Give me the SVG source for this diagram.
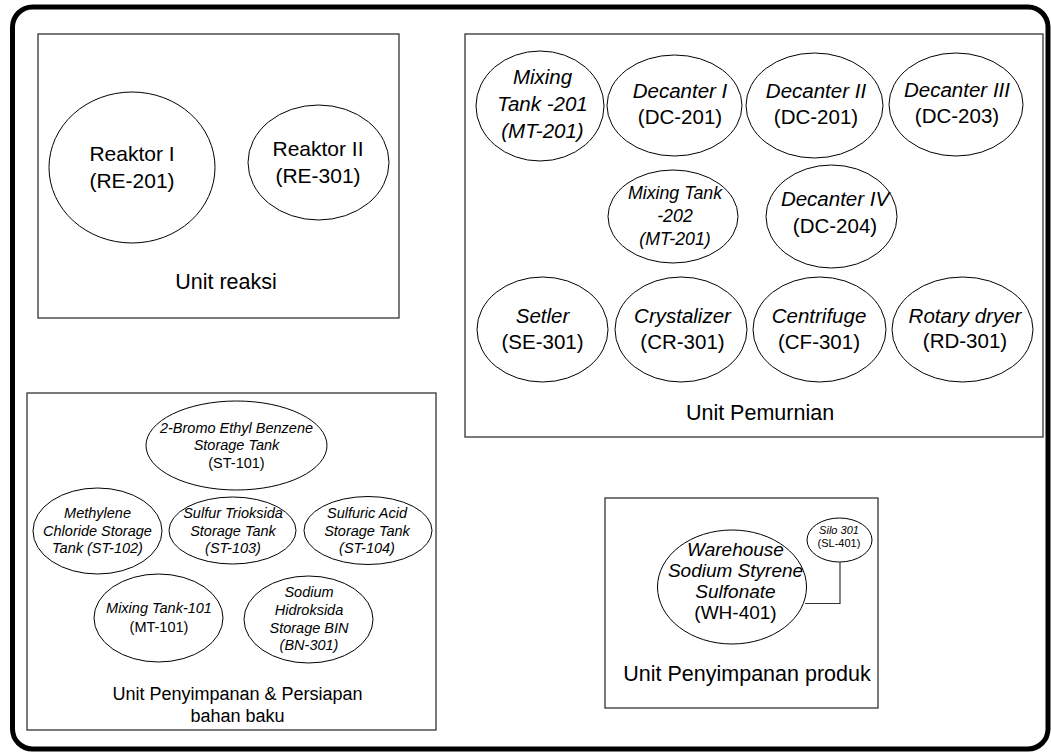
<svg xmlns="http://www.w3.org/2000/svg" width="1051" height="753" viewBox="0 0 1051 753">
<style>
text{font-family:"Liberation Sans",Arial,sans-serif;fill:#000;text-anchor:middle}
.i{font-style:italic}
.box{fill:#fff;stroke:#333;stroke-width:1.3}
.node{fill:#fff;stroke:#000;stroke-width:1}
.big{font-size:21px}
.md{font-size:20.5px}
.sm{font-size:14.5px}
.lbl{font-size:21.5px}
</style>
<rect width="1051" height="753" fill="#fff"/>
<rect x="12.5" y="7" width="1035.5" height="742" rx="20" fill="#fff" stroke="#000" stroke-width="5"/>

<g id="unit-reaksi">
<rect class="box" x="38" y="34" width="361" height="284"/>
<text class="lbl" x="226" y="289">Unit reaksi</text>
</g>
<g id="RE-201">
<ellipse class="node" cx="132" cy="167.5" rx="83" ry="75.5"/>
<text class="big" x="132" y="161">Reaktor I</text>
<text class="big" x="132" y="188">(RE-201)</text>
</g>
<g id="RE-301">
<ellipse class="node" cx="318.5" cy="162.5" rx="70.5" ry="57.5"/>
<text class="big" x="318" y="156">Reaktor II</text>
<text class="big" x="318" y="183">(RE-301)</text>
</g>

<g id="unit-pemurnian">
<rect class="box" x="465" y="34" width="578" height="403"/>
<text class="lbl" x="760" y="420">Unit Pemurnian</text>
</g>
<g id="MT-201">
<ellipse class="node" cx="540" cy="106" rx="64" ry="55"/>
<text class="md i" x="542.5" y="84">Mixing</text>
<text class="md i" x="542.5" y="111">Tank -201</text>
<text class="md i" x="542.5" y="138">(MT-201)</text>
</g>
<g id="DC-201a">
<ellipse class="node" cx="674.5" cy="105.5" rx="67.5" ry="50.5"/>
<text class="md i" x="680" y="98">Decanter I</text>
<text class="md" x="680" y="124">(DC-201)</text>
</g>
<g id="DC-201b">
<ellipse class="node" cx="814.5" cy="105.5" rx="68.5" ry="52.5"/>
<text class="md i" x="816" y="98">Decanter II</text>
<text class="md" x="816" y="124">(DC-201)</text>
</g>
<g id="DC-203">
<ellipse class="node" cx="956" cy="104.5" rx="67" ry="51.5"/>
<text class="md i" x="957" y="97">Decanter III</text>
<text class="md" x="957" y="123">(DC-203)</text>
</g>
<g id="MT-202">
<ellipse class="node" cx="673" cy="216.5" rx="65" ry="46.5"/>
<text class="i" font-size="17.8" x="675" y="199">Mixing Tank</text>
<text class="i" font-size="17.8" x="675" y="222">-202</text>
<text class="i" font-size="17.8" x="675" y="245">(MT-201)</text>
</g>
<g id="DC-204">
<ellipse class="node" cx="831.5" cy="216.5" rx="65.5" ry="51.5"/>
<text class="md i" x="835" y="206">Decanter IV</text>
<text class="md" x="835" y="233">(DC-204)</text>
</g>
<g id="SE-301">
<ellipse class="node" cx="542.5" cy="329.5" rx="65.5" ry="52.5"/>
<text class="md i" x="542.5" y="323">Setler</text>
<text class="md" x="542.5" y="349">(SE-301)</text>
</g>
<g id="CR-301">
<ellipse class="node" cx="681" cy="329.5" rx="66" ry="52.5"/>
<text class="md i" x="682.5" y="323">Crystalizer</text>
<text class="md" x="682.5" y="349">(CR-301)</text>
</g>
<g id="CF-301">
<ellipse class="node" cx="819.5" cy="329.5" rx="66.5" ry="52.5"/>
<text class="md i" x="819" y="323">Centrifuge</text>
<text class="md" x="819" y="349">(CF-301)</text>
</g>
<g id="RD-301">
<ellipse class="node" cx="962.5" cy="329.5" rx="70.5" ry="52.5"/>
<text class="md i" x="965" y="323">Rotary dryer</text>
<text class="md" x="965" y="348">(RD-301)</text>
</g>

<g id="unit-penyimpanan-persiapan">
<rect class="box" x="27" y="393" width="409" height="337"/>
<text font-size="18" x="237.5" y="700">Unit Penyimpanan &amp; Persiapan</text>
<text font-size="18" x="237.5" y="722">bahan baku</text>
</g>
<g id="ST-101">
<ellipse class="node" cx="236.5" cy="445.5" rx="90.5" ry="44.5"/>
<text class="sm i" x="236.5" y="433">2-Bromo Ethyl Benzene</text>
<text class="sm i" x="236.5" y="450">Storage Tank</text>
<text class="sm" x="236.5" y="468">(ST-101)</text>
</g>
<g id="ST-102">
<ellipse class="node" cx="97.5" cy="531" rx="64.5" ry="43"/>
<text class="sm i" x="97.5" y="518">Methylene</text>
<text class="sm i" x="97.5" y="536">Chloride Storage</text>
<text class="sm i" x="97.5" y="553">Tank (ST-102)</text>
</g>
<g id="ST-103">
<ellipse class="node" cx="232.5" cy="530.5" rx="63.5" ry="33.5"/>
<text class="sm i" x="233" y="518">Sulfur Trioksida</text>
<text class="sm i" x="233" y="536">Storage Tank</text>
<text class="sm i" x="233" y="553">(ST-103)</text>
</g>
<g id="ST-104">
<ellipse class="node" cx="368" cy="530.5" rx="64" ry="34"/>
<text class="sm i" x="367" y="518">Sulfuric Acid</text>
<text class="sm i" x="367" y="536">Storage Tank</text>
<text class="sm i" x="367" y="553">(ST-104)</text>
</g>
<g id="MT-101">
<ellipse class="node" cx="158.5" cy="618" rx="64.5" ry="44"/>
<text class="sm i" x="159" y="613">Mixing Tank-101</text>
<text class="sm" x="159" y="632">(MT-101)</text>
</g>
<g id="BN-301">
<ellipse class="node" cx="308.5" cy="619.5" rx="64.5" ry="43.5"/>
<text class="sm i" x="309" y="597">Sodium</text>
<text class="sm i" x="309" y="615">Hidroksida</text>
<text class="sm i" x="309" y="633">Storage BIN</text>
<text class="sm i" x="309" y="650">(BN-301)</text>
</g>

<g id="unit-penyimpanan-produk">
<rect class="box" x="605" y="498" width="273" height="210"/>
<text class="lbl" x="747" y="681">Unit Penyimpanan produk</text>
</g>
<g id="WH-401">
<ellipse class="node" cx="732" cy="587" rx="74.5" ry="57"/>
<text class="i" font-size="19" x="735.5" y="556">Warehouse</text>
<text class="i" font-size="19" x="735.5" y="577">Sodium Styrene</text>
<text class="i" font-size="19" x="735.5" y="598">Sulfonate</text>
<text font-size="19" x="735.5" y="619">(WH-401)</text>
</g>
<g id="SL-401">
<ellipse class="node" cx="839.5" cy="540" rx="32.5" ry="22"/>
<text class="i" font-size="11" x="839" y="534">Silo 301</text>
<text font-size="11" x="839" y="547">(SL-401)</text>
</g>

<g id="connectors">
<polyline points="840,562 840,603.5 805,603.5" fill="none" stroke="#333" stroke-width="1.2"/>
</g>
</svg>
